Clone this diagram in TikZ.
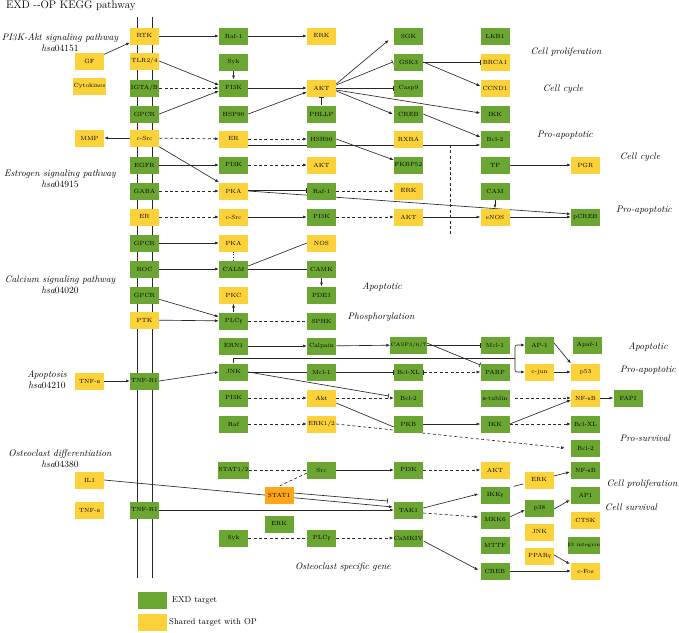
\documentclass[tikz,border=0pt]{standalone}
\usepackage{fontspec}
\newfontfamily\grkfont{Liberation Serif}
\newcommand{\gk}[1]{{\grkfont #1}}
\usetikzlibrary{arrows.meta,calc}
\definecolor{eg}{RGB}{107,166,50}
\definecolor{ey}{RGB}{252,210,58}
\definecolor{eo}{RGB}{255,165,25}
\definecolor{ln}{RGB}{40,40,40}
\pgfdeclarelayer{bg}
\pgfsetlayers{bg,main}
\tikzset{
 bx/.style={rectangle, minimum width=29pt, minimum height=17pt, inner sep=0.3pt, font=\fontsize{6}{7}\selectfont, text=black},
 gb/.style={bx, fill=eg},
 yb/.style={bx, fill=ey},
 ob/.style={bx, fill=eo},
 sm/.style={font=\fontsize{5.1}{6}\selectfont},
 lab/.style={font=\fontsize{9.5}{11}\selectfont\itshape, align=center, inner sep=0pt},
 leg/.style={font=\fontsize{8.5}{10}\selectfont, anchor=west, inner sep=0pt},
 con/.style={draw=ln, line width=0.65pt},
 arr/.style={con, -{Latex[length=3.8pt,width=3pt]}},
 darr/.style={arr, dash pattern=on 3pt off 2.4pt},
 dln/.style={con, dash pattern=on 3pt off 2.4pt},
 inh/.style={con, -{Bar[width=5pt]}},
 dinh/.style={con, dash pattern=on 3pt off 2.4pt, {Bar[width=5pt]}-{Latex[length=3.8pt,width=3pt]}},
}
\begin{document}
\begin{tikzpicture}[x=1pt,y=-1pt]
\useasboundingbox (0,0) rectangle (679,632);
% title
\node[anchor=base west, inner sep=0pt, font=\fontsize{11}{13}\selectfont] (title) at (6,8) {EXD -{}-OP KEGG pathway};
% pathway labels
\node[lab] (L1) at (60,42.5) {PI3K-Akt signaling pathway\\\textit{hsa}\textup{04151}};
\node[lab] (L2) at (60,178.5) {Estrogen signaling pathway\\\textit{hsa}\textup{04915}};
\node[lab] (L3) at (60,285) {Calcium signaling pathway\\\textit{hsa}\textup{04020}};
\node[lab] (L4) at (47,379.5) {Apoptosis\\\textit{hsa}\textup{04210}};
\node[lab] (L5) at (60,459) {Osteoclast differentiation\\\textit{hsa}\textup{04380}};
% right labels
\node[lab] (R1) at (566,52) {Cell proliferation};
\node[lab] (R2) at (563,89) {Cell cycle};
\node[lab] (R3) at (565,135) {Pro-apoptotic};
\node[lab] (R4) at (640,157) {Cell cycle};
\node[lab] (R5) at (644,210) {Pro-apoptotic};
\node[lab] (R6) at (382,287) {Apoptotic};
\node[lab] (R7) at (381,317) {Phosphorylation};
\node[lab] (R8) at (648,347) {Apoptotic};
\node[lab] (R9) at (648,370) {Pro-apoptotic};
\node[lab] (R10) at (645,438) {Pro-survival};
\node[lab] (R11) at (642,484) {Cell proliferation};
\node[lab] (R12) at (631,507) {Cell survival};
\node[lab] (R13) at (343,567) {Osteoclast specific gene};
% column A
\node[yb] (GF) at (89.5,61) {GF};
\node[yb] (Cyto) at (89.5,86) {Cytokines};
\node[yb] (MMP) at (89.5,138) {MMP};
\node[yb] (TNFa1) at (89.5,381) {TNF-\gk{α}};
\node[yb] (IL1) at (89.5,480) {IL1};
\node[yb] (TNFa2) at (89.5,510) {TNF-\gk{α}};
% column B
\node[yb] (RTK) at (144.5,36) {RTK};
\node[yb] (TLR) at (144.5,61) {TLR2/4};
\node[gb] (IGTA) at (144.5,88) {IGTA/B};
\node[gb] (GPCRa) at (144.5,114) {GPCR};
\node[yb] (cSrca) at (144.5,138) {c-Src};
\node[gb] (EGFR) at (144.5,165) {EGFR};
\node[gb] (GABA) at (144.5,191) {GABA};
\node[yb] (ERb) at (144.5,217) {ER};
\node[gb] (GPCRb) at (144.5,243) {GPCR};
\node[gb] (ROC) at (144.5,269) {ROC};
\node[gb] (GPCRc) at (144.5,295) {GPCR};
\node[yb] (PTK) at (144.5,320) {PTK};
\node[gb] (TNFRa) at (144.5,381) {TNF-R1};
\node[gb] (TNFRb) at (144.5,510) {TNF-R1};
% column C
\node[gb] (Rafa) at (233.5,36) {Raf-1};
\node[gb] (Syka) at (233.5,62) {Syk};
\node[gb] (PIa) at (233.5,88) {PI3K};
\node[gb] (HSP) at (233.5,114) {HSP90};
\node[yb] (ERa) at (233.5,139) {ER};
\node[gb] (PIb) at (233.5,165) {PI3K};
\node[yb] (PKAa) at (233.5,191) {PKA};
\node[yb] (cSrcb) at (233.5,217) {c-Src};
\node[yb] (PKAb) at (233.5,243) {PKA};
\node[gb] (CALM) at (233.5,269) {CALM};
\node[yb] (PKC) at (233.5,295) {PKC};
\node[gb] (PLCa) at (233.5,321) {PLC\gk{γ}};
\node[gb] (ERN) at (233.5,346) {ERN1};
\node[gb] (JNKa) at (233.5,372) {JNK};
\node[gb] (PIc) at (233.5,398) {PI3K};
\node[gb] (Raf) at (233.5,424) {Raf};
\node[gb] (STATa) at (233.5,470) {STAT1/2};
\node[gb] (Sykb) at (233.5,538) {Syk};
% column D
\node[yb] (ERKa) at (321.5,36) {ERK};
\node[yb] (AKTa) at (321.5,88) {AKT};
\node[gb] (PHLLP) at (321.5,114) {PHLLP};
\node[gb] (HSH) at (321.5,139) {HSH90};
\node[yb] (AKTb) at (321.5,165) {AKT};
\node[gb] (Rafb) at (321.5,191) {Raf-1};
\node[gb] (PId) at (321.5,217) {PI3K};
\node[yb] (NOS) at (321.5,243) {NOS};
\node[gb] (CAMK) at (321.5,269) {CAMK};
\node[gb] (PDE) at (321.5,295) {PDE1};
\node[gb] (SPHK) at (321.5,321) {SPHK};
\node[gb] (Calp) at (321.5,346) {Calpain};
\node[gb] (Mcla) at (321.5,372) {Mcl-1};
\node[yb] (Aktc) at (321.5,398) {Akt};
\node[yb] (ERK12) at (321.5,424) {ERK1/2};
\node[gb] (Src) at (321.5,470) {Src};
\node[gb] (PLCb) at (321.5,538) {PLC\gk{γ}};
% column E
\node[gb] (SGK) at (408.5,36) {SGK};
\node[gb] (GSK) at (408.5,62) {GSK3};
\node[gb] (Casp) at (408.5,88) {Casp9};
\node[gb] (CREBa) at (408.5,114) {CREB};
\node[yb] (RXRA) at (408.5,139) {RXRA};
\node[gb] (FKBP) at (408.5,165) {FKBP52};
\node[yb] (ERKb) at (408.5,191) {ERK};
\node[yb] (AKTd) at (408.5,217) {AKT};
\node[gb,sm] (CASP) at (408.5,345) {CASP3/6/7};
\node[gb] (BXLa) at (408.5,372) {Bcl-XL};
\node[gb] (B2a) at (408.5,398) {Bcl-2};
\node[gb] (PKB) at (408.5,424) {PKB};
\node[gb] (PIe) at (408.5,470) {PI3K};
\node[gb] (TAK) at (408.5,510) {TAK1};
\node[gb] (CaMK) at (408.5,538) {CaMKIV};
% column F
\node[gb] (LKB) at (495,36) {LKB1};
\node[yb] (BRCA) at (495,62) {BRCA1};
\node[yb] (CCND) at (495,88) {CCND1};
\node[gb] (IKKa) at (495,114) {IKK};
\node[gb] (B2b) at (495,139) {Bcl-2};
\node[gb] (TF) at (495,165) {TF};
\node[gb] (CAM) at (495,191) {CAM};
\node[yb] (eNOS) at (495,217) {eNOS};
\node[gb] (Mclb) at (495,345) {Mcl-1};
\node[gb] (PARP) at (495,372) {PARP};
\node[gb] (atub) at (495,398) {\gk{α}-tublin};
\node[gb] (IKKb) at (495,424) {IKK};
\node[yb] (AKTe) at (495,470) {AKT};
\node[gb] (IKKg) at (495,495) {IKK\gk{γ}};
\node[gb] (MKK) at (495,520) {MKK6};
\node[gb] (MTTF) at (495,545) {MTTF};
\node[gb] (CREBb) at (495,571) {CREB};
% column G
\node[gb] (AP1a) at (539.5,345) {AP-1};
\node[yb] (cjun) at (539.5,372) {c-jun};
\node[yb] (ERKc) at (539,480) {ERK};
\node[gb] (p38) at (539.5,508) {p38};
\node[yb] (JNKb) at (539.5,532) {JNK};
\node[yb] (PPAR) at (539.5,556) {PPAR\gk{γ}};
% column H
\node[yb] (PGR) at (585.5,165) {PGR};
\node[gb] (pCREB) at (585.5,217) {pCREB};
\node[gb] (Apaf) at (587.5,345) {Apaf-1};
\node[yb] (p53) at (585.5,372) {p53};
\node[yb] (NFa) at (585.5,398) {NF-\gk{κ}B};
\node[gb] (BXLb) at (585.5,424) {Bcl-XL};
\node[gb] (B2c) at (585.5,448) {Bcl-2};
\node[gb] (NFb) at (585.5,470) {NF-\gk{κ}B};
\node[gb] (AP1b) at (585.5,495) {AP1};
\node[yb] (CTSK) at (585.5,520) {CTSK};
\node[gb,sm] (b3) at (584,545) {\gk{β}3 integrin};
\node[yb] (cFos) at (585.5,571) {c-Fos};
\node[gb] (FAPI) at (628,398) {FAPI};
% extra
\node[ob] (STAT1) at (279,495) {STAT1};
\node[gb] (ERKd) at (279,524) {ERK};
% legend
\node[gb] (lg1) at (152,600) {};
\node[leg] (lt1) at (172,600) {EXD target};
\node[yb] (lg2) at (152,622.5) {};
\node[leg] (lt2) at (169,622.5) {Shared target with OP};
% coordinates
\coordinate (m1t) at (137,17); \coordinate (m1b) at (137,578);
\coordinate (m2t) at (152,17); \coordinate (m2b) at (152,578);
\coordinate (vdt) at (450,145); \coordinate (vdb) at (450,235);
\coordinate (jb) at (515,358);
\begin{pgfonlayer}{bg}
\draw[con] (m1t) -- (m1b);
\draw[con] (m2t) -- (m2b);
% PI3K-Akt
\draw[arr] (RTK) -- (Rafa);
\draw[arr] (Rafa) -- (ERKa);
\draw[arr] (GF) -- (RTK);
\draw[arr] (TLR.east) -- ($(PIa.west)+(0,-3)$);
\draw[darr] (IGTA) -- (PIa);
\draw[arr] (GPCRa.east) -- ($(PIa.west)+(0,3)$);
\draw[arr] (Syka) -- (PIa);
\draw[arr] (PIa) -- (AKTa);
\draw[arr] (HSP.east) -- ($(AKTa.west)+(0,4)$);
\draw[inh] (PHLLP) -- (AKTa);
\draw[arr] ($(AKTa.east)+(0,-4)$) -- ($(SGK.west)+(-5,4)$);
\draw[inh] ($(AKTa.east)+(0,-3)$) -- ($(GSK.west)+(-1,0)$);
\draw[inh] (AKTa) -- (Casp);
\draw[arr] ($(AKTa.east)+(0,3)$) -- ($(CREBa.west)+(-1,0)$);
\draw[arr] ($(AKTa.east)+(0,2)$) -- ($(IKKa.west)+(0,-1)$);
\draw[inh] (GSK) -- (BRCA);
\draw[arr] (GSK.east) -- ($(CCND.west)+(0,-2)$);
\draw[arr] (CREBa.east) -- ($(B2b.west)+(0,-2)$);
\draw[darr] (cSrca) -- (ERa);
\draw[arr] (cSrca) -- (MMP);
\draw[darr] (ERa) -- (HSH);
\draw[arr] ($(ERa.east)+(0,6)$) -- ($(B2b.west)+(0,6)$);
\draw[dln] (vdt) -- (vdb);
\draw[arr] (HSH.east) -- ($(FKBP.west)+(0,-5)$);
\draw[arr] (cSrca) -- (PKAa);
% Estrogen
\draw[arr] (EGFR) -- (PIb);
\draw[darr] (PIb) -- (AKTb);
\draw[darr] (GABA) -- (PKAa);
\draw[inh] ($(PKAa.east)+(0,-1)$) -- ($(Rafb.west)+(0,-1)$);
\draw[arr] (PKAa.east) -- ($(pCREB.west)+(0,-3)$);
\draw[darr] (Rafb) -- (ERKb);
\draw[darr] (ERb) -- (cSrcb);
\draw[arr] (cSrcb) -- (PId);
\draw[darr] (PId) -- (AKTd);
\draw[arr] (AKTd) -- (eNOS);
\draw[arr] (CAM) -- (eNOS);
\draw[arr] (eNOS) -- (pCREB);
\draw[arr] (TF) -- (PGR);
% Calcium
\draw[arr] (GPCRb) -- (PKAb);
\draw[con, dotted] (PKAb) -- (CALM);
\draw[arr] (ROC) -- (CALM);
\draw[con] ($(CALM.east)+(0,-3)$) -- (NOS.west);
\draw[con] (CALM) -- (CAMK);
\draw[arr] (CAMK) -- (PDE);
\draw[arr] (GPCRc) -- (PLCa);
\draw[arr] (PLCa) -- (PKC);
\draw[arr] (PTK) -- (PLCa);
\draw[dln] (PLCa) -- (SPHK);
% Apoptosis
\draw[arr] (ERN) -- (Calp);
\draw[arr] (Calp) -- (CASP);
\draw[inh] (CASP) -- (Mclb);
\draw[inh] ($(CASP.east)+(0,-2)$) -- ($(PARP.west)+(0,-7)$);
\draw[con] (JNKa.north) |- (jb);
\draw[arr, rounded corners=2pt] (jb) |- (AP1a.west);
\draw[arr, rounded corners=2pt] (jb) |- (cjun.west);
\draw[con] (JNKa) -- (Mcla);
\draw[inh] (Mcla) -- (BXLa);
\draw[inh] (JNKa.east) -- ($(B2a.west)+(-5,-2)$);
\draw[dinh] (BXLa) -- (PARP);
\draw[darr] (PIc) -- (Aktc);
\draw[darr] (Aktc) -- (B2a);
\draw[con] ($(Aktc.east)+(0,5)$) -- ($(PKB.west)+(0,3)$);
\draw[darr] (Raf) -- (ERK12);
\draw[darr] (ERK12.east) -- ($(B2c.west)+(-6,0)$);
\draw[arr] (PKB) -- (IKKb);
\draw[arr] (IKKb.east) -- ($(NFa.west)+(0,2)$);
\draw[darr] (IKKb) -- (BXLb);
\draw[darr] ($(atub.east)+(5,0)$) -- (NFa);
\draw[arr] (NFa) -- (FAPI);
\draw[arr] ($(AP1a.east)+(-1,-3)$) -- (p53.north west);
\draw[arr] (cjun) -- (p53);
\draw[arr] (TNFa1) -- (TNFRa);
\draw[arr] (TNFRa.east) -- (JNKa.west);
% Osteoclast
\draw[dln] (STATa) -- (Src);
\draw[dln] ($(Src.west)+(0,3)$) -- (STAT1.north);
\draw[arr] (Src) -- (PIe);
\draw[darr] (PIe) -- (AKTe);
\draw[arr] (IL1.east) -- ($(TAK.west)+(-1,-3)$);
\draw[inh] ($(STAT1.east)+(0,-2)$) -- ($(TAK.west)+(-6,-9)$);
\draw[arr] (TNFRb) -- (TAK);
\draw[dln] (Sykb) -- (PLCb);
\draw[darr] (PLCb) -- (CaMK);
\draw[arr] ($(TAK.east)+(0,-2)$) -- ($(IKKg.west)+(-2,-1)$);
\draw[darr] ($(TAK.east)+(0,3)$) -- ($(MKK.west)+(-2,-3)$);
\draw[arr] ($(CaMK.east)+(0,3)$) -- ($(CREBb.west)+(-2,-1)$);
\draw[con] ($(IKKg.north east)+(4,0)$) -- ($(ERKc.west)+(-1,4)$);
\draw[arr] ($(ERKc.east)+(0,-4)$) -- ($(NFb.west)+(-1,2)$);
\draw[arr] ($(MKK.east)+(0,-3)$) -- ($(p38.west)+(0,2)$);
\draw[arr] ($(p38.east)+(0,1)$) -- ($(AP1b.west)+(-1,5)$);
\draw[arr] ($(PPAR.east)+(0,-1)$) -- ($(cFos.west)+(-1,-7)$);
\draw[arr] (CREBb) -- (cFos);
\end{pgfonlayer}
\end{tikzpicture}
\end{document}
